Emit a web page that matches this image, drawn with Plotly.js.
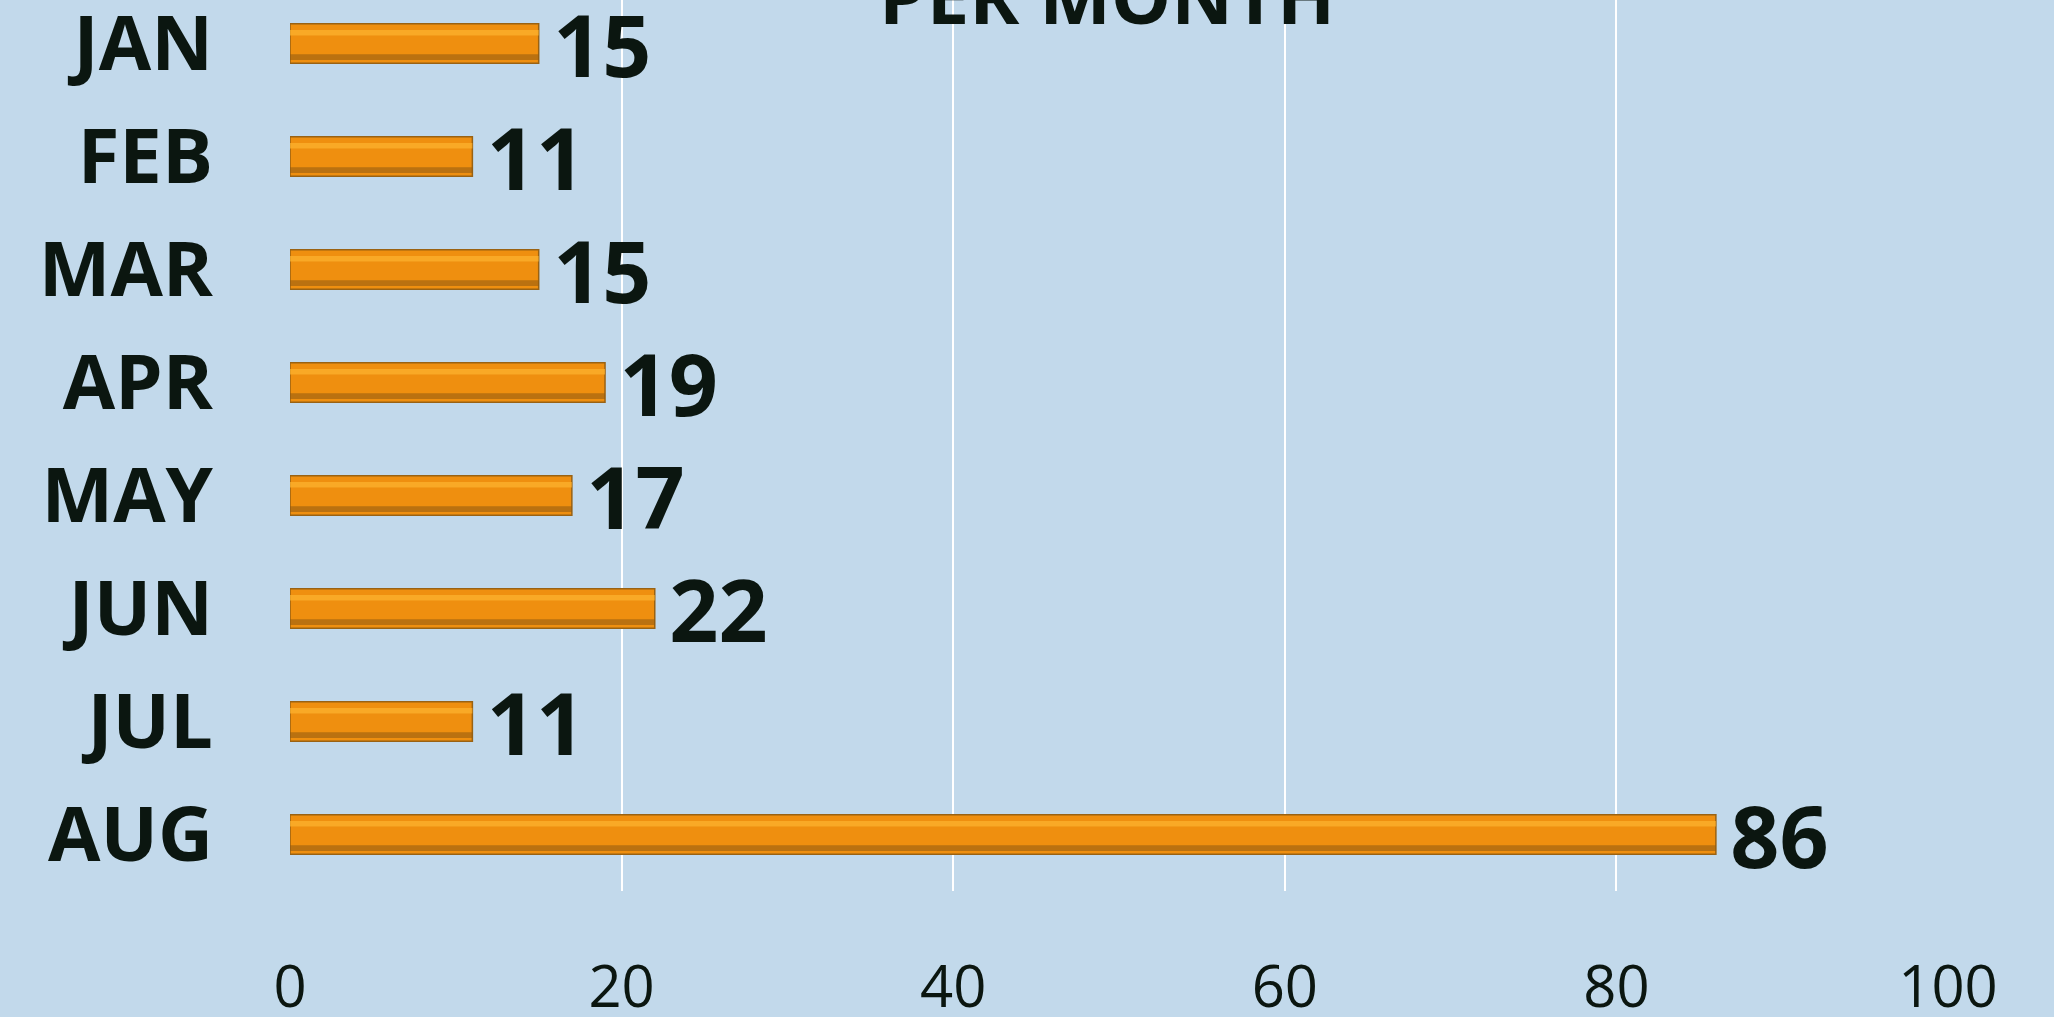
<!DOCTYPE html>
<html>
<head>
<meta charset="utf-8">
<script src="https://cdn.plot.ly/plotly-3.0.1.min.js"></script>
<style>
  html, body { margin: 0; padding: 0; overflow: hidden; background: #C2D9EB; }
  #chart { position: absolute; left: 0; top: -60px; width: 2054px; height: 1077px; }
</style>
</head>
<body>
<div id="chart"></div>
<script>
// ---- data ----
const months = ["JAN", "FEB", "MAR", "APR", "MAY", "JUN", "JUL", "AUG"];
const counts = [15, 11, 15, 19, 17, 22, 11, 86];
const xTicks = [0, 20, 40, 60, 80, 100];
const titleText = "PER MONTH";

// ---- style ----
const bg = "#C2D9EB";
const ink = "#0B1610";
const font = "'Open Sans', 'DejaVu Sans', sans-serif";
const barW = 0.35;

const mainBar = {
  type: "bar", orientation: "h",
  x: counts, y: months,
  width: barW, offset: -barW / 2,
  marker: { color: "#EF8F0F", line: { color: "#9A6212", width: 1.5 } },
  text: counts.map(v => "<span style='font-size:44px'>\u00A0</span>" + v),
  textposition: "outside",
  cliponaxis: false,
  constraintext: "none",
  textfont: { family: font, size: 86, color: ink, weight: 700 },
  hoverinfo: "skip"
};
const highlight = {
  type: "bar", orientation: "h",
  x: counts, y: months,
  width: 0.05, offset: -barW / 2 + 0.055,
  marker: { color: "#FDB431", opacity: 0.7, line: { width: 0 } },
  hoverinfo: "skip"
};
const shade = {
  type: "bar", orientation: "h",
  x: counts, y: months,
  width: 0.05, offset: barW / 2 - 0.08,
  marker: { color: "#8E5A12", opacity: 0.55, line: { width: 0 } },
  hoverinfo: "skip"
};

const layout = {
  width: 2054, height: 1077,
  paper_bgcolor: bg, plot_bgcolor: bg,
  margin: { l: 290, r: 106, t: 47, b: 126, pad: 0 },
  barmode: "overlay",
  showlegend: false,
  title: {
    text: "<b>" + titleText + "</b>",
    font: { family: font, size: 76, color: ink },
    xref: "container", x: 0.539, xanchor: "center",
    yref: "container", y: 0.922, yanchor: "bottom"
  },
  xaxis: {
    range: [0, 100],
    tickvals: xTicks,
    ticktext: xTicks.map(String),
    showgrid: true, gridcolor: "#FFFFFF", gridwidth: 2,
    zeroline: false, showline: false, ticks: "",
    ticklabelstandoff: 57,
    tickfont: { family: font, size: 58, color: ink }
  },
  yaxis: {
    type: "category",
    categoryorder: "array", categoryarray: months,
    autorange: "reversed",
    showgrid: false, zeroline: false, showline: false, ticks: "",
    ticklabelstandoff: 76,
    tickfont: { family: font, size: 76, color: ink, weight: 700 }
  }
};

Plotly.newPlot("chart", [mainBar, highlight, shade], layout, { displayModeBar: false, staticPlot: true });
</script>
</body>
</html>
